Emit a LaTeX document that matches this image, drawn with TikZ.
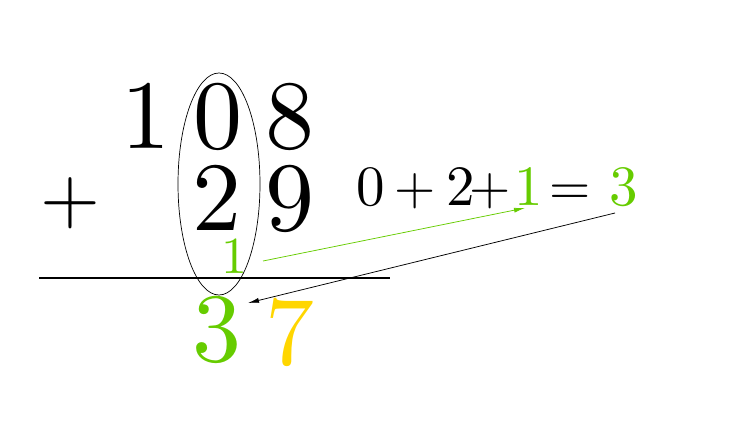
\documentclass[tikz,border=0pt]{standalone}
\usepackage{fontspec}
\newfontfamily\lmten{lmroman10-regular.otf}
\usepackage{xcolor}
\usetikzlibrary{arrows.meta,shapes.geometric}
\definecolor{cgreen}{RGB}{102,204,0}
\definecolor{cyellow}{RGB}{255,214,0}
\tikzset{
  big/.style={font=\lmten\fontsize{98}{98}\selectfont, inner sep=0pt, anchor=base},
  bigplus/.style={font=\lmten\fontsize{77}{77}\selectfont, inner sep=0pt, anchor=base},
  small/.style={font=\lmten\fontsize{52}{52}\selectfont, inner sep=0pt, anchor=base},
  eq/.style={font=\lmten\fontsize{57}{57}\selectfont, inner sep=0pt, anchor=base},
  eqop/.style={font=\lmten\fontsize{53}{53}\selectfont, inner sep=0pt, anchor=base},
  conn/.style={line width=0.75pt, -{Latex[length=11pt,width=5pt]}},
}
\begin{document}
\begin{tikzpicture}[x=1pt,y=-1pt]
\useasboundingbox (0,0) rectangle (756,447);
% first number
\node[big] (a1) at (145.5,148) {1};
\node[big] (a2) at (217.5,148) {0};
\node[big] (a3) at (290,148) {8};
% second number
\node[bigplus] (pl) at (70.5,222.5) {+};
\node[big] (b2) at (216.5,230) {2};
\node[big] (b3) at (290,230) {9};
% carry
\node[small, text=cgreen] (carry) at (234,273) {1};
% rule
\draw[line width=1.8pt] (39,278) coordinate (r1) -- (390,278) coordinate (r2);
% result
\node[big, text=cgreen] (s2) at (216.5,361) {3};
\node[big, text=cyellow] (s3) at (290,364) {7};
% ellipse around tens column
\node[draw, ellipse, line width=0.7pt, minimum width=82pt, minimum height=222pt, inner sep=0pt] (ell) at (219,184) {};
% equation
\node[eq] (e0) at (371,205) {0};
\node[eqop] (ep1) at (415.5,204.5) {+};
\node[eq] (e2) at (460.5,205) {2};
\node[eqop] (ep2) at (490.5,204.5) {+};
\node[eq, text=cgreen] (e1) at (528.5,205) {1};
\node[eqop] (eeq) at (570.5,204.5) {=};
\node[eq, text=cgreen] (e3) at (624,205) {3};
% arrows
\coordinate (gstart) at (263,261);
\coordinate (gend) at (525,208);
\coordinate (kstart) at (615,213);
\coordinate (kend) at (248,303);
\draw[conn, cgreen] (gstart) -- (gend);
\draw[conn, black] (kstart) -- (kend);
\end{tikzpicture}
\end{document}
